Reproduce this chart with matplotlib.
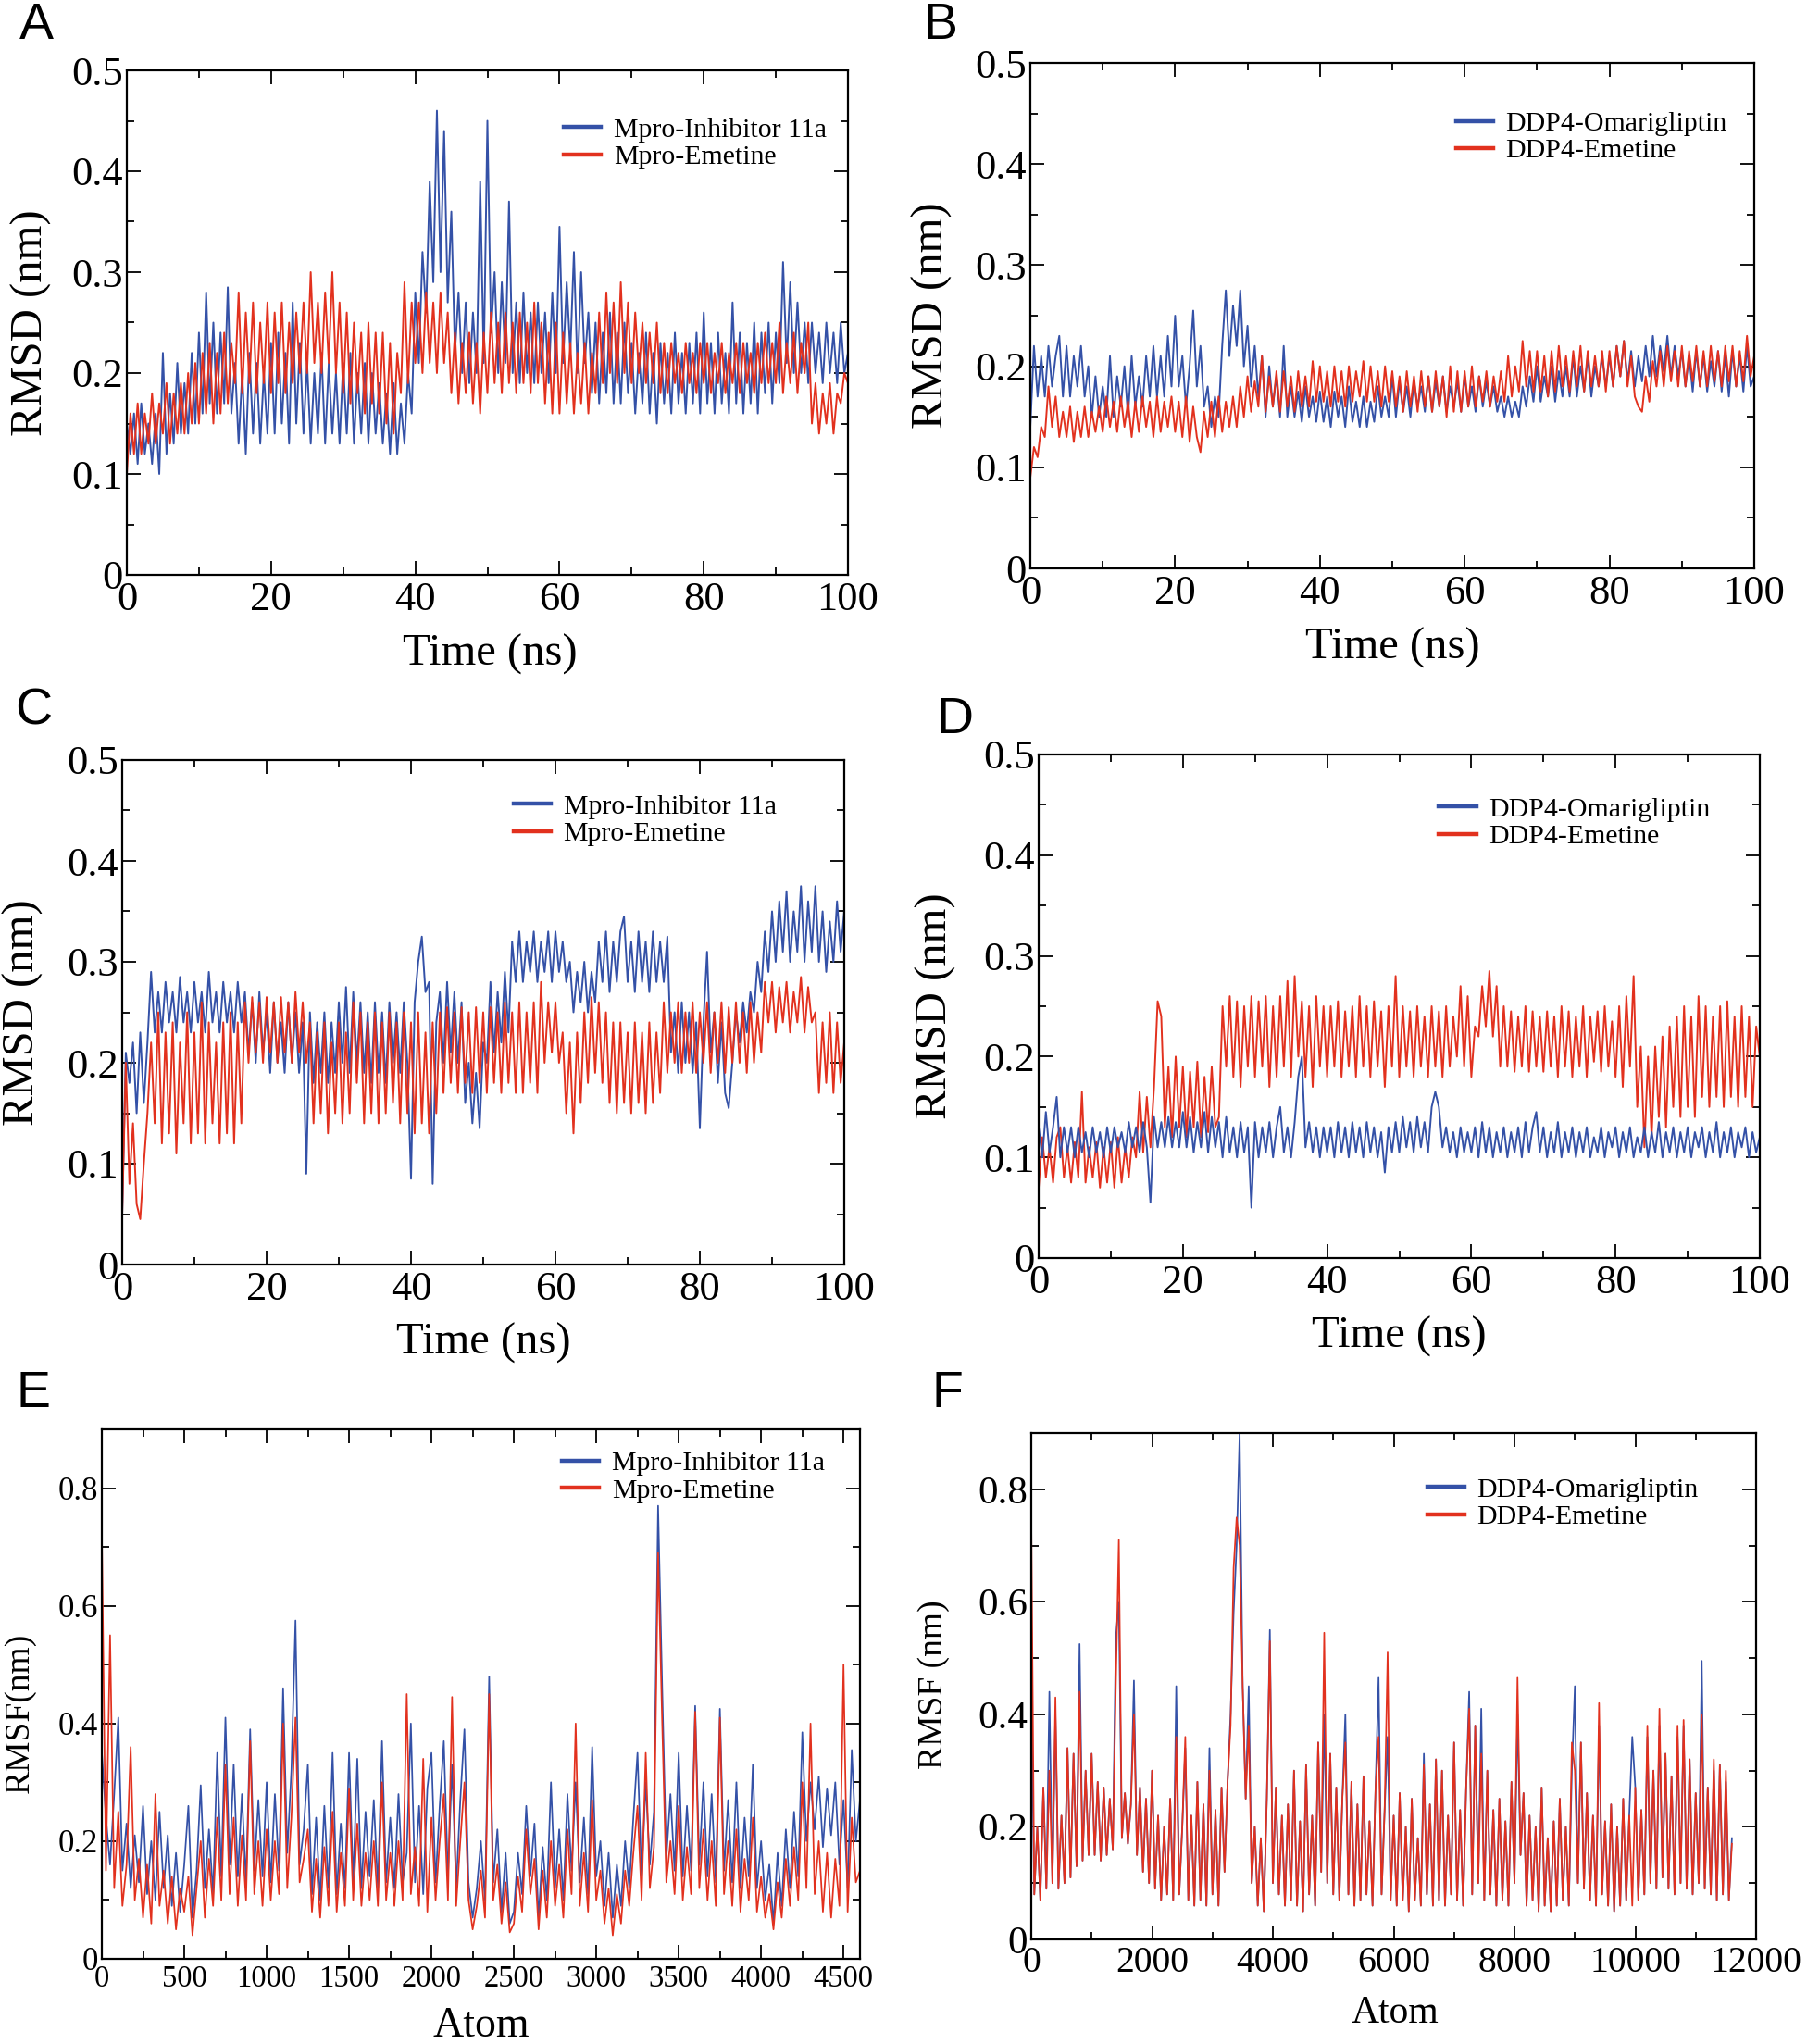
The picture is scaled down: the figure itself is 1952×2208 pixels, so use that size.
import matplotlib
matplotlib.use("Agg")
import matplotlib.pyplot as plt
import numpy as np
from matplotlib.ticker import MultipleLocator

# ---------------- DATA ----------------
# RMSD traces sampled every 0.5 ns, 0..100 ns (201 values each)
time_ns = np.linspace(0, 100, 201)

A_inhib11a = [
    0.15,0.12,0.16,0.11,0.17,0.12,0.15,0.11,0.16,0.10,
    0.22,0.12,0.18,0.13,0.21,0.14,0.19,0.14,0.22,0.15,
    0.24,0.16,0.28,0.17,0.25,0.16,0.24,0.17,0.285,0.16,
    0.21,0.13,0.20,0.12,0.22,0.14,0.21,0.13,0.20,0.14,
    0.23,0.14,0.24,0.15,0.22,0.13,0.27,0.15,0.23,0.14,
    0.21,0.13,0.20,0.14,0.22,0.13,0.21,0.14,0.20,0.13,
    0.21,0.14,0.22,0.13,0.20,0.14,0.21,0.13,0.20,0.14,
    0.19,0.13,0.18,0.12,0.19,0.12,0.17,0.13,0.20,0.16,
    0.28,0.21,0.32,0.26,0.39,0.29,0.46,0.30,0.44,0.27,
    0.36,0.22,0.28,0.20,0.27,0.19,0.26,0.20,0.39,0.21,
    0.45,0.24,0.30,0.20,0.29,0.21,0.37,0.20,0.27,0.19,
    0.28,0.20,0.26,0.19,0.27,0.20,0.26,0.19,0.28,0.20,
    0.345,0.21,0.29,0.22,0.32,0.20,0.30,0.21,0.26,0.18,
    0.25,0.17,0.24,0.18,0.26,0.17,0.24,0.17,0.25,0.18,
    0.23,0.16,0.22,0.17,0.24,0.16,0.22,0.15,0.23,0.17,
    0.22,0.16,0.24,0.17,0.22,0.16,0.23,0.17,0.24,0.16,
    0.26,0.17,0.23,0.16,0.24,0.17,0.22,0.16,0.27,0.17,
    0.24,0.16,0.23,0.17,0.25,0.16,0.24,0.18,0.25,0.17,
    0.24,0.19,0.31,0.21,0.29,0.20,0.27,0.20,0.25,0.19,
    0.25,0.20,0.24,0.19,0.25,0.20,0.24,0.19,0.25,0.20,
    0.22]
A_emetine = [
    0.10,0.16,0.12,0.17,0.12,0.16,0.13,0.18,0.13,0.17,
    0.14,0.19,0.13,0.18,0.14,0.19,0.14,0.20,0.15,0.21,
    0.15,0.22,0.16,0.23,0.15,0.22,0.16,0.24,0.17,0.23,
    0.19,0.28,0.18,0.26,0.19,0.27,0.18,0.25,0.19,0.27,
    0.18,0.26,0.19,0.27,0.18,0.25,0.19,0.26,0.20,0.27,
    0.20,0.30,0.21,0.27,0.20,0.28,0.21,0.30,0.20,0.27,
    0.18,0.26,0.17,0.25,0.18,0.24,0.16,0.25,0.17,0.24,
    0.16,0.24,0.15,0.23,0.14,0.22,0.18,0.29,0.19,0.27,
    0.21,0.27,0.20,0.28,0.21,0.27,0.20,0.28,0.21,0.26,
    0.18,0.24,0.17,0.23,0.18,0.24,0.17,0.23,0.16,0.24,
    0.18,0.26,0.19,0.25,0.18,0.26,0.19,0.25,0.18,0.26,
    0.19,0.25,0.18,0.27,0.19,0.25,0.17,0.24,0.16,0.25,
    0.16,0.24,0.17,0.23,0.16,0.22,0.17,0.23,0.16,0.22,
    0.18,0.26,0.19,0.28,0.20,0.27,0.19,0.29,0.20,0.27,
    0.19,0.26,0.20,0.25,0.19,0.24,0.19,0.25,0.18,0.23,
    0.18,0.23,0.19,0.22,0.18,0.23,0.19,0.22,0.18,0.23,
    0.19,0.23,0.18,0.22,0.19,0.23,0.18,0.22,0.19,0.23,
    0.18,0.23,0.19,0.22,0.18,0.23,0.19,0.24,0.19,0.23,
    0.19,0.25,0.18,0.23,0.19,0.24,0.18,0.23,0.20,0.25,
    0.15,0.19,0.14,0.18,0.15,0.19,0.14,0.18,0.17,0.20,
    0.19]

B_omarigliptin = [
    0.14,0.22,0.17,0.21,0.17,0.22,0.18,0.21,0.23,0.17,
    0.22,0.17,0.21,0.18,0.22,0.17,0.20,0.15,0.19,0.15,
    0.18,0.15,0.21,0.15,0.19,0.16,0.20,0.15,0.21,0.16,
    0.19,0.16,0.21,0.17,0.22,0.17,0.21,0.17,0.23,0.18,
    0.25,0.18,0.21,0.16,0.20,0.255,0.18,0.22,0.16,0.18,
    0.14,0.17,0.15,0.22,0.275,0.21,0.26,0.22,0.275,0.20,
    0.24,0.18,0.22,0.17,0.21,0.15,0.20,0.16,0.19,0.15,
    0.22,0.15,0.18,0.15,0.175,0.145,0.18,0.15,0.17,0.145,
    0.175,0.145,0.17,0.14,0.175,0.15,0.17,0.14,0.18,0.145,
    0.165,0.14,0.17,0.14,0.165,0.145,0.18,0.15,0.17,0.15,
    0.19,0.15,0.185,0.155,0.18,0.15,0.185,0.16,0.18,0.155,
    0.19,0.155,0.185,0.16,0.19,0.155,0.18,0.16,0.185,0.155,
    0.19,0.16,0.18,0.155,0.19,0.16,0.185,0.16,0.18,0.155,
    0.17,0.15,0.17,0.15,0.165,0.15,0.18,0.16,0.19,0.165,
    0.20,0.165,0.19,0.17,0.20,0.165,0.195,0.17,0.20,0.17,
    0.21,0.17,0.20,0.175,0.21,0.17,0.20,0.18,0.21,0.18,
    0.21,0.18,0.22,0.19,0.225,0.185,0.215,0.18,0.21,0.185,
    0.22,0.19,0.23,0.19,0.22,0.195,0.23,0.19,0.22,0.19,
    0.215,0.18,0.21,0.175,0.215,0.18,0.21,0.175,0.205,0.18,
    0.215,0.175,0.21,0.17,0.215,0.18,0.21,0.175,0.22,0.18,
    0.19]
B_emetine = [
    0.09,0.12,0.11,0.14,0.13,0.18,0.14,0.17,0.13,0.155,
    0.13,0.16,0.125,0.155,0.13,0.16,0.13,0.155,0.135,0.16,
    0.135,0.17,0.14,0.165,0.135,0.17,0.14,0.165,0.13,0.165,
    0.135,0.17,0.14,0.165,0.13,0.17,0.135,0.165,0.14,0.17,
    0.135,0.165,0.13,0.17,0.125,0.16,0.13,0.115,0.155,0.13,
    0.165,0.13,0.17,0.135,0.165,0.14,0.17,0.14,0.18,0.15,
    0.19,0.155,0.185,0.16,0.21,0.155,0.19,0.16,0.195,0.155,
    0.195,0.16,0.19,0.155,0.195,0.16,0.19,0.16,0.205,0.165,
    0.20,0.165,0.195,0.16,0.20,0.165,0.195,0.16,0.20,0.165,
    0.195,0.17,0.205,0.165,0.20,0.165,0.195,0.16,0.20,0.165,
    0.195,0.16,0.19,0.155,0.195,0.16,0.19,0.155,0.195,0.16,
    0.19,0.155,0.195,0.16,0.19,0.15,0.20,0.155,0.195,0.155,
    0.195,0.16,0.20,0.16,0.19,0.165,0.195,0.16,0.19,0.165,
    0.195,0.165,0.21,0.17,0.20,0.175,0.225,0.18,0.215,0.175,
    0.215,0.175,0.21,0.17,0.215,0.175,0.22,0.18,0.21,0.175,
    0.215,0.18,0.22,0.175,0.215,0.18,0.21,0.18,0.215,0.175,
    0.215,0.18,0.22,0.19,0.225,0.18,0.21,0.17,0.16,0.155,
    0.19,0.165,0.205,0.18,0.215,0.18,0.22,0.185,0.215,0.18,
    0.22,0.18,0.215,0.185,0.22,0.18,0.215,0.18,0.22,0.185,
    0.215,0.18,0.22,0.185,0.22,0.18,0.215,0.185,0.23,0.19,
    0.21]

C_inhib11a = [
    0.05,0.21,0.18,0.22,0.15,0.23,0.16,0.22,0.29,0.23,
    0.27,0.23,0.28,0.24,0.27,0.23,0.285,0.24,0.27,0.23,
    0.28,0.24,0.27,0.23,0.29,0.24,0.27,0.23,0.28,0.24,
    0.27,0.23,0.28,0.24,0.27,0.21,0.26,0.20,0.27,0.21,
    0.25,0.19,0.26,0.20,0.24,0.19,0.26,0.20,0.25,0.19,
    0.24,0.09,0.25,0.18,0.24,0.19,0.25,0.18,0.24,0.19,
    0.26,0.20,0.275,0.19,0.27,0.20,0.26,0.19,0.25,0.18,
    0.26,0.19,0.25,0.18,0.26,0.20,0.25,0.19,0.26,0.20,
    0.085,0.26,0.30,0.325,0.27,0.28,0.08,0.24,0.27,0.20,
    0.28,0.21,0.27,0.20,0.26,0.16,0.20,0.14,0.19,0.135,
    0.22,0.20,0.28,0.21,0.27,0.22,0.29,0.23,0.32,0.28,
    0.33,0.28,0.32,0.29,0.33,0.28,0.32,0.29,0.33,0.28,
    0.33,0.29,0.32,0.28,0.30,0.25,0.29,0.26,0.30,0.25,
    0.29,0.26,0.32,0.28,0.33,0.27,0.32,0.28,0.33,0.345,
    0.28,0.32,0.27,0.33,0.28,0.32,0.27,0.33,0.28,0.32,
    0.28,0.325,0.21,0.25,0.19,0.26,0.20,0.25,0.19,0.24,
    0.135,0.24,0.31,0.21,0.25,0.18,0.24,0.17,0.155,0.20,
    0.25,0.22,0.26,0.23,0.27,0.25,0.30,0.27,0.33,0.29,
    0.35,0.30,0.36,0.31,0.37,0.30,0.35,0.31,0.375,0.30,
    0.36,0.31,0.375,0.30,0.35,0.29,0.34,0.30,0.36,0.31,
    0.35]
C_emetine = [
    0.05,0.20,0.08,0.14,0.06,0.045,0.10,0.15,0.22,0.14,
    0.25,0.12,0.23,0.13,0.24,0.11,0.22,0.14,0.25,0.12,
    0.23,0.13,0.26,0.12,0.24,0.14,0.22,0.12,0.24,0.13,
    0.25,0.12,0.24,0.14,0.26,0.20,0.265,0.21,0.26,0.20,
    0.265,0.21,0.26,0.20,0.265,0.21,0.26,0.20,0.27,0.21,
    0.26,0.20,0.24,0.14,0.23,0.15,0.24,0.13,0.22,0.15,
    0.24,0.14,0.23,0.15,0.26,0.18,0.25,0.14,0.24,0.15,
    0.25,0.14,0.24,0.15,0.25,0.16,0.24,0.14,0.25,0.15,
    0.24,0.13,0.25,0.14,0.23,0.13,0.24,0.15,0.25,0.17,
    0.255,0.18,0.25,0.17,0.255,0.18,0.25,0.17,0.255,0.18,
    0.25,0.17,0.255,0.18,0.25,0.17,0.26,0.18,0.25,0.17,
    0.26,0.17,0.25,0.18,0.26,0.17,0.28,0.20,0.26,0.21,
    0.26,0.20,0.23,0.15,0.22,0.13,0.23,0.16,0.25,0.18,
    0.265,0.19,0.26,0.18,0.25,0.16,0.24,0.15,0.24,0.16,
    0.23,0.15,0.24,0.16,0.23,0.15,0.24,0.16,0.23,0.17,
    0.26,0.19,0.25,0.20,0.26,0.19,0.25,0.20,0.26,0.19,
    0.25,0.20,0.26,0.19,0.25,0.20,0.26,0.19,0.255,0.20,
    0.26,0.20,0.25,0.19,0.26,0.20,0.25,0.21,0.28,0.24,
    0.28,0.23,0.275,0.24,0.28,0.23,0.27,0.24,0.285,0.23,
    0.275,0.24,0.25,0.17,0.24,0.18,0.25,0.17,0.24,0.18,
    0.22]

D_omarigliptin = [
    0.13,0.10,0.145,0.105,0.13,0.16,0.10,0.13,0.105,0.13,
    0.10,0.13,0.105,0.125,0.10,0.13,0.105,0.125,0.10,0.13,
    0.105,0.13,0.11,0.125,0.105,0.135,0.11,0.13,0.105,0.135,
    0.11,0.055,0.14,0.11,0.135,0.11,0.14,0.11,0.135,0.11,
    0.145,0.11,0.14,0.105,0.135,0.11,0.145,0.105,0.14,0.11,
    0.135,0.10,0.14,0.105,0.13,0.10,0.135,0.105,0.13,0.05,
    0.135,0.10,0.13,0.105,0.135,0.10,0.13,0.15,0.105,0.13,
    0.10,0.135,0.18,0.20,0.11,0.135,0.105,0.13,0.10,0.13,
    0.105,0.13,0.10,0.135,0.105,0.13,0.10,0.135,0.105,0.13,
    0.10,0.135,0.105,0.13,0.10,0.125,0.085,0.13,0.105,0.135,
    0.105,0.14,0.11,0.135,0.105,0.14,0.11,0.135,0.105,0.15,
    0.165,0.15,0.11,0.13,0.105,0.125,0.10,0.13,0.105,0.125,
    0.105,0.13,0.10,0.135,0.105,0.13,0.10,0.125,0.105,0.13,
    0.10,0.125,0.105,0.13,0.10,0.135,0.105,0.13,0.145,0.105,
    0.13,0.10,0.125,0.105,0.135,0.10,0.125,0.105,0.13,0.10,
    0.125,0.105,0.13,0.10,0.12,0.105,0.13,0.10,0.125,0.11,
    0.13,0.10,0.125,0.105,0.13,0.10,0.12,0.105,0.13,0.10,
    0.125,0.105,0.135,0.10,0.125,0.105,0.13,0.10,0.125,0.105,
    0.13,0.10,0.125,0.11,0.13,0.10,0.125,0.105,0.135,0.10,
    0.125,0.105,0.13,0.10,0.125,0.11,0.13,0.10,0.125,0.105,
    0.12]
D_emetine = [
    0.07,0.12,0.08,0.11,0.075,0.12,0.13,0.08,0.11,0.075,
    0.115,0.08,0.165,0.075,0.11,0.08,0.115,0.07,0.11,0.075,
    0.115,0.07,0.12,0.075,0.11,0.08,0.12,0.10,0.165,0.105,
    0.16,0.11,0.17,0.255,0.24,0.13,0.19,0.12,0.20,0.13,
    0.19,0.12,0.185,0.13,0.195,0.12,0.18,0.125,0.19,0.13,
    0.14,0.25,0.19,0.26,0.18,0.255,0.17,0.25,0.19,0.26,
    0.18,0.255,0.19,0.26,0.17,0.25,0.18,0.26,0.19,0.275,
    0.18,0.28,0.20,0.255,0.18,0.25,0.17,0.26,0.19,0.25,
    0.18,0.25,0.19,0.255,0.18,0.245,0.19,0.25,0.18,0.26,
    0.19,0.25,0.18,0.255,0.19,0.245,0.17,0.25,0.19,0.28,
    0.18,0.25,0.19,0.245,0.18,0.25,0.19,0.24,0.18,0.25,
    0.19,0.245,0.18,0.25,0.19,0.24,0.20,0.27,0.19,0.26,
    0.18,0.23,0.22,0.27,0.23,0.285,0.22,0.27,0.19,0.25,
    0.19,0.245,0.185,0.24,0.19,0.25,0.185,0.245,0.19,0.24,
    0.185,0.245,0.19,0.24,0.18,0.25,0.19,0.245,0.18,0.24,
    0.19,0.25,0.18,0.24,0.195,0.245,0.185,0.25,0.19,0.235,
    0.18,0.25,0.17,0.26,0.19,0.28,0.15,0.21,0.11,0.20,
    0.12,0.21,0.14,0.22,0.13,0.23,0.15,0.24,0.14,0.25,
    0.15,0.24,0.14,0.26,0.16,0.25,0.15,0.24,0.16,0.25,
    0.15,0.255,0.16,0.24,0.15,0.25,0.16,0.24,0.15,0.23,
    0.20]

# RMSF per atom, panel E sampled every 25 atoms (0..4600)
E_atom = np.arange(0, 4601, 25)
E_inhib11a = [
    0.35,0.24,0.16,0.28,0.41,0.15,0.23,0.12,0.21,0.13,
    0.26,0.11,0.20,0.10,0.25,0.12,0.21,0.09,0.18,0.08,
    0.16,0.26,0.07,0.15,0.295,0.12,0.22,0.11,0.35,0.14,
    0.41,0.16,0.33,0.14,0.28,0.13,0.39,0.15,0.27,0.14,
    0.30,0.13,0.28,0.15,0.46,0.18,0.32,0.575,0.16,0.22,
    0.33,0.11,0.24,0.10,0.26,0.12,0.35,0.11,0.23,0.12,
    0.35,0.13,0.34,0.12,0.25,0.14,0.27,0.12,0.37,0.13,
    0.24,0.12,0.28,0.13,0.18,0.40,0.13,0.26,0.11,0.29,
    0.35,0.13,0.26,0.37,0.14,0.33,0.12,0.27,0.39,0.13,
    0.07,0.12,0.20,0.10,0.48,0.13,0.22,0.08,0.18,0.06,
    0.08,0.18,0.11,0.26,0.14,0.23,0.07,0.19,0.10,0.30,
    0.12,0.22,0.10,0.28,0.15,0.30,0.13,0.24,0.11,0.36,
    0.14,0.20,0.09,0.18,0.07,0.16,0.09,0.20,0.12,0.24,
    0.35,0.14,0.30,0.16,0.25,0.77,0.46,0.17,0.28,0.15,
    0.35,0.14,0.26,0.15,0.43,0.16,0.30,0.14,0.28,0.13,
    0.425,0.15,0.27,0.13,0.30,0.12,0.24,0.14,0.33,0.12,
    0.20,0.10,0.16,0.06,0.18,0.09,0.22,0.12,0.25,0.14,
    0.385,0.20,0.30,0.22,0.31,0.19,0.29,0.21,0.30,0.16,
    0.27,0.12,0.355,0.20,0.27]
E_emetine = [
    0.72,0.15,0.55,0.12,0.25,0.09,0.16,0.36,0.10,0.17,
    0.07,0.16,0.06,0.28,0.09,0.15,0.06,0.14,0.05,0.12,
    0.08,0.14,0.04,0.12,0.20,0.07,0.17,0.09,0.24,0.10,
    0.33,0.11,0.24,0.09,0.21,0.10,0.37,0.11,0.20,0.09,
    0.22,0.10,0.20,0.11,0.40,0.12,0.24,0.41,0.13,0.17,
    0.22,0.08,0.17,0.07,0.19,0.09,0.25,0.08,0.18,0.09,
    0.29,0.10,0.23,0.09,0.18,0.10,0.20,0.09,0.30,0.10,
    0.18,0.09,0.20,0.10,0.45,0.11,0.19,0.09,0.34,0.08,
    0.24,0.10,0.20,0.28,0.10,0.445,0.09,0.20,0.30,0.10,
    0.05,0.09,0.15,0.07,0.45,0.10,0.16,0.06,0.13,0.045,
    0.06,0.14,0.08,0.22,0.11,0.17,0.05,0.15,0.07,0.20,
    0.09,0.16,0.07,0.22,0.11,0.40,0.09,0.18,0.08,0.27,
    0.10,0.15,0.06,0.12,0.04,0.11,0.06,0.15,0.09,0.18,
    0.26,0.10,0.35,0.12,0.19,0.69,0.40,0.13,0.20,0.11,
    0.26,0.10,0.19,0.11,0.42,0.12,0.22,0.10,0.20,0.09,
    0.41,0.11,0.20,0.09,0.22,0.08,0.17,0.10,0.24,0.08,
    0.14,0.07,0.11,0.05,0.13,0.07,0.17,0.09,0.19,0.10,
    0.30,0.12,0.40,0.11,0.20,0.08,0.18,0.07,0.17,0.09,
    0.50,0.08,0.24,0.13,0.15]

# RMSF per atom, panel F sampled every 50 atoms (0..11600)
F_atom = np.arange(0, 11601, 50)
F_omarigliptin = [
    0.45,0.08,0.20,0.07,0.27,0.09,0.44,0.10,0.40,0.09,0.22,0.10,0.34,0.11,0.33,0.13,0.525,0.14,0.30,0.15,
    0.33,0.15,0.28,0.14,0.27,0.15,0.25,0.16,0.535,0.60,0.18,0.26,0.17,0.24,0.46,0.15,0.27,0.12,0.25,0.10,
    0.30,0.09,0.22,0.07,0.20,0.08,0.25,0.07,0.45,0.08,0.20,0.34,0.07,0.22,0.06,0.28,0.07,0.24,0.06,0.34,
    0.08,0.23,0.06,0.27,0.12,0.28,0.40,0.58,0.70,0.90,0.45,0.25,0.45,0.10,0.20,0.06,0.18,0.05,0.25,0.55,
    0.10,0.27,0.08,0.22,0.06,0.24,0.07,0.30,0.06,0.21,0.05,0.31,0.08,0.22,0.06,0.35,0.12,0.40,0.10,0.33,
    0.08,0.27,0.07,0.25,0.40,0.08,0.28,0.06,0.24,0.07,0.29,0.08,0.21,0.06,0.27,0.465,0.08,0.23,0.36,0.07,
    0.22,0.06,0.26,0.07,0.20,0.05,0.25,0.07,0.18,0.06,0.33,0.08,0.24,0.06,0.32,0.07,0.30,0.06,0.22,0.08,
    0.35,0.07,0.23,0.06,0.27,0.44,0.08,0.38,0.10,0.41,0.07,0.30,0.08,0.23,0.06,0.25,0.07,0.21,0.06,0.28,
    0.10,0.40,0.15,0.26,0.06,0.22,0.07,0.20,0.05,0.27,0.06,0.18,0.05,0.21,0.06,0.25,0.07,0.20,0.06,0.30,
    0.45,0.10,0.35,0.09,0.26,0.07,0.22,0.06,0.38,0.08,0.21,0.06,0.24,0.05,0.20,0.06,0.25,0.07,0.22,0.36,
    0.27,0.07,0.23,0.08,0.36,0.10,0.30,0.09,0.38,0.11,0.33,0.09,0.29,0.08,0.36,0.10,0.38,0.09,0.32,0.08,
    0.26,0.10,0.495,0.09,0.27,0.08,0.30,0.07,0.31,0.08,0.28,0.07,0.18]
F_emetine = [
    0.75,0.08,0.20,0.07,0.27,0.09,0.30,0.10,0.43,0.09,0.22,0.10,0.34,0.11,0.33,0.13,0.44,0.14,0.30,0.15,
    0.33,0.15,0.28,0.14,0.27,0.15,0.25,0.16,0.45,0.71,0.18,0.26,0.17,0.24,0.40,0.15,0.27,0.12,0.25,0.10,
    0.30,0.09,0.22,0.07,0.20,0.08,0.25,0.07,0.36,0.08,0.20,0.36,0.07,0.22,0.06,0.28,0.07,0.24,0.06,0.30,
    0.08,0.23,0.06,0.27,0.12,0.28,0.38,0.66,0.75,0.70,0.45,0.25,0.38,0.10,0.20,0.06,0.18,0.05,0.25,0.53,
    0.10,0.27,0.08,0.22,0.06,0.24,0.07,0.30,0.06,0.21,0.05,0.31,0.08,0.22,0.06,0.35,0.12,0.545,0.10,0.33,
    0.08,0.27,0.07,0.25,0.35,0.08,0.28,0.06,0.24,0.07,0.29,0.08,0.21,0.06,0.27,0.36,0.08,0.23,0.51,0.07,
    0.22,0.06,0.26,0.07,0.20,0.05,0.25,0.07,0.18,0.06,0.31,0.08,0.24,0.06,0.32,0.07,0.30,0.06,0.22,0.08,
    0.35,0.07,0.23,0.06,0.27,0.41,0.08,0.38,0.10,0.33,0.07,0.30,0.08,0.23,0.06,0.25,0.07,0.21,0.06,0.28,
    0.10,0.465,0.15,0.26,0.06,0.22,0.07,0.20,0.05,0.27,0.06,0.18,0.05,0.21,0.06,0.25,0.07,0.20,0.06,0.35,
    0.30,0.10,0.35,0.09,0.26,0.07,0.22,0.06,0.42,0.08,0.21,0.06,0.24,0.05,0.20,0.06,0.25,0.07,0.22,0.06,
    0.27,0.07,0.23,0.08,0.38,0.10,0.30,0.09,0.41,0.11,0.33,0.09,0.29,0.08,0.38,0.10,0.39,0.09,0.32,0.08,
    0.26,0.10,0.40,0.09,0.27,0.08,0.32,0.07,0.31,0.08,0.30,0.07,0.17]

# Labels / ticks
mpro_labels = ["Mpro-Inhibitor 11a", "Mpro-Emetine"]
ddp4_labels = ["DDP4-Omarigliptin", "DDP4-Emetine"]
time_ticks = [0, 20, 40, 60, 80, 100]
time_ticklabels = ["0", "20", "40", "60", "80", "100"]
rmsd_ticks = [0, 0.1, 0.2, 0.3, 0.4, 0.5]
rmsd_ticklabels = ["0", "0.1", "0.2", "0.3", "0.4", "0.5"]
rmsf_ticks = [0, 0.2, 0.4, 0.6, 0.8]
rmsf_ticklabels = ["0", "0.2", "0.4", "0.6", "0.8"]
E_xticks = [0, 500, 1000, 1500, 2000, 2500, 3000, 3500, 4000, 4500]
E_xticklabels = ["0", "500", "1000", "1500", "2000", "2500", "3000", "3500", "4000", "4500"]
F_xticks = [0, 2000, 4000, 6000, 8000, 10000, 12000]
F_xticklabels = ["0", "2000", "4000", "6000", "8000", "10000", "12000"]

for name, arr, n in [("A1", A_inhib11a, 201), ("A2", A_emetine, 201), ("B1", B_omarigliptin, 201),
                     ("B2", B_emetine, 201), ("C1", C_inhib11a, 201), ("C2", C_emetine, 201),
                     ("D1", D_omarigliptin, 201), ("D2", D_emetine, 201),
                     ("E1", E_inhib11a, len(E_atom)), ("E2", E_emetine, len(E_atom)),
                     ("F1", F_omarigliptin, len(F_atom)), ("F2", F_emetine, len(F_atom))]:
    assert len(arr) == n, (name, len(arr), n)

# ---------------- STYLE ----------------
plt.rcParams['font.family'] = ['Liberation Serif', 'DejaVu Serif']
BLUE = '#3451A7'
RED = '#E2311E'
W, H = 1952, 2208

fig = plt.figure(figsize=(W / 100, H / 100), dpi=100)


def px_axes(l, t, r, b):
    return fig.add_axes([l / W, 1 - b / H, (r - l) / W, (b - t) / H])


def style(ax, xlim, xticks, xtl, xminor, ylim, yticks, ytl, yminor, xfs, yfs):
    ax.set_xlim(*xlim)
    ax.set_ylim(*ylim)
    ax.set_xticks(xticks)
    ax.set_xticklabels(xtl, fontsize=xfs)
    ax.set_yticks(yticks)
    ax.set_yticklabels(ytl, fontsize=yfs)
    ax.xaxis.set_minor_locator(MultipleLocator(xminor))
    ax.yaxis.set_minor_locator(MultipleLocator(yminor))
    ax.tick_params(which='both', direction='in', top=True, right=True, width=1.3, color='black')
    ax.tick_params(which='major', length=11)
    ax.tick_params(which='minor', length=6)
    ax.tick_params(axis='x', which='major', pad=5)
    ax.tick_params(axis='y', which='major', pad=3)
    for s in ax.spines.values():
        s.set_linewidth(1.6)


def add_legend(ax, handles, labels, x, y):
    leg = ax.legend(handles, labels, loc='center left', bbox_to_anchor=(x, y),
                    frameon=False, fontsize=21.5, handlelength=1.35, handletextpad=0.45,
                    borderpad=0, borderaxespad=0, labelspacing=0.08)
    for h in leg.legend_handles:
        h.set_linewidth(3.2)
    return leg


LW = 1.4      # RMSD traces
LW2 = 1.25    # RMSF traces

# Panel A
axA = px_axes(137, 76, 916, 621)
lb = axA.plot(time_ns, A_inhib11a, color=BLUE, lw=LW)[0]
lr = axA.plot(time_ns, A_emetine, color=RED, lw=LW)[0]
style(axA, (0, 100), time_ticks, time_ticklabels, 10, (0, 0.5), rmsd_ticks, rmsd_ticklabels, 0.05, 32, 32)
axA.set_xlabel("Time (ns)", fontsize=35)
axA.set_ylabel("RMSD (nm)", fontsize=35)
axA.xaxis.set_label_coords(0.503, -0.117)
axA.yaxis.set_label_coords(-0.104, 0.5)
add_legend(axA, [lb, lr], mpro_labels, 0.606, 0.855)

# Panel B
axB = px_axes(1113, 68, 1895, 614)
lb = axB.plot(time_ns, B_omarigliptin, color=BLUE, lw=LW)[0]
lr = axB.plot(time_ns, B_emetine, color=RED, lw=LW)[0]
style(axB, (0, 100), time_ticks, time_ticklabels, 10, (0, 0.5), rmsd_ticks, rmsd_ticklabels, 0.05, 32, 32)
axB.set_xlabel("Time (ns)", fontsize=35)
axB.set_ylabel("RMSD (nm)", fontsize=35)
axB.xaxis.set_label_coords(0.501, -0.117)
axB.yaxis.set_label_coords(-0.107, 0.5)
add_legend(axB, [lb, lr], ddp4_labels, 0.588, 0.853)

# Panel C
axC = px_axes(132, 821, 912, 1366)
lb = axC.plot(time_ns, C_inhib11a, color=BLUE, lw=LW)[0]
lr = axC.plot(time_ns, C_emetine, color=RED, lw=LW)[0]
style(axC, (0, 100), time_ticks, time_ticklabels, 10, (0, 0.5), rmsd_ticks, rmsd_ticklabels, 0.05, 32, 32)
axC.set_xlabel("Time (ns)", fontsize=35)
axC.set_ylabel("RMSD (nm)", fontsize=35)
axC.xaxis.set_label_coords(0.5, -0.116)
axC.yaxis.set_label_coords(-0.109, 0.5)
add_legend(axC, [lb, lr], mpro_labels, 0.542, 0.881)

# Panel D (blue drawn on top)
axD = px_axes(1122, 815, 1901, 1359)
lr = axD.plot(time_ns, D_emetine, color=RED, lw=LW)[0]
lb = axD.plot(time_ns, D_omarigliptin, color=BLUE, lw=LW)[0]
style(axD, (0, 100), time_ticks, time_ticklabels, 10, (0, 0.5), rmsd_ticks, rmsd_ticklabels, 0.05, 32, 32)
axD.set_xlabel("Time (ns)", fontsize=35)
axD.set_ylabel("RMSD (nm)", fontsize=35)
axD.xaxis.set_label_coords(0.5, -0.116)
axD.yaxis.set_label_coords(-0.114, 0.5)
add_legend(axD, [lb, lr], ddp4_labels, 0.555, 0.864)

# Panel E
axE = px_axes(110, 1544, 929, 2116)
lb = axE.plot(E_atom, E_inhib11a, color=BLUE, lw=LW2)[0]
lr = axE.plot(E_atom, E_emetine, color=RED, lw=LW2)[0]
style(axE, (0, 4600), E_xticks, E_xticklabels, 250, (0, 0.9), rmsf_ticks, rmsf_ticklabels, 0.1, 23.5, 25)
axE.set_xlabel("Atom", fontsize=33)
axE.set_ylabel("RMSF(nm)", fontsize=27)
axE.xaxis.set_label_coords(0.5, -0.09)
axE.yaxis.set_label_coords(-0.087, 0.465)
add_legend(axE, [lb, lr], mpro_labels, 0.607, 0.91)

# Panel F
axF = px_axes(1114, 1548, 1897, 2095)
lb = axF.plot(F_atom, F_omarigliptin, color=BLUE, lw=LW2)[0]
lr = axF.plot(F_atom, F_emetine, color=RED, lw=LW2)[0]
style(axF, (0, 12000), F_xticks, F_xticklabels, 1000, (0, 0.9), rmsf_ticks, rmsf_ticklabels, 0.1, 28.5, 31)
axF.set_xlabel("Atom", fontsize=30)
axF.set_ylabel("RMSF (nm)", fontsize=27)
axF.xaxis.set_label_coords(0.502, -0.11)
axF.yaxis.set_label_coords(-0.112, 0.503)
add_legend(axF, [lb, lr], ddp4_labels, 0.546, 0.861)

# Panel letters
for letter, x, y in [("A", 21, 42), ("B", 998, 42), ("C", 16, 782),
                     ("D", 1011, 792), ("E", 17, 1520), ("F", 1007, 1520)]:
    fig.text(x / W, 1 - y / H, letter, fontsize=40, family='Liberation Sans',
             ha='left', va='baseline')

fig.savefig("out.png", dpi=100)
